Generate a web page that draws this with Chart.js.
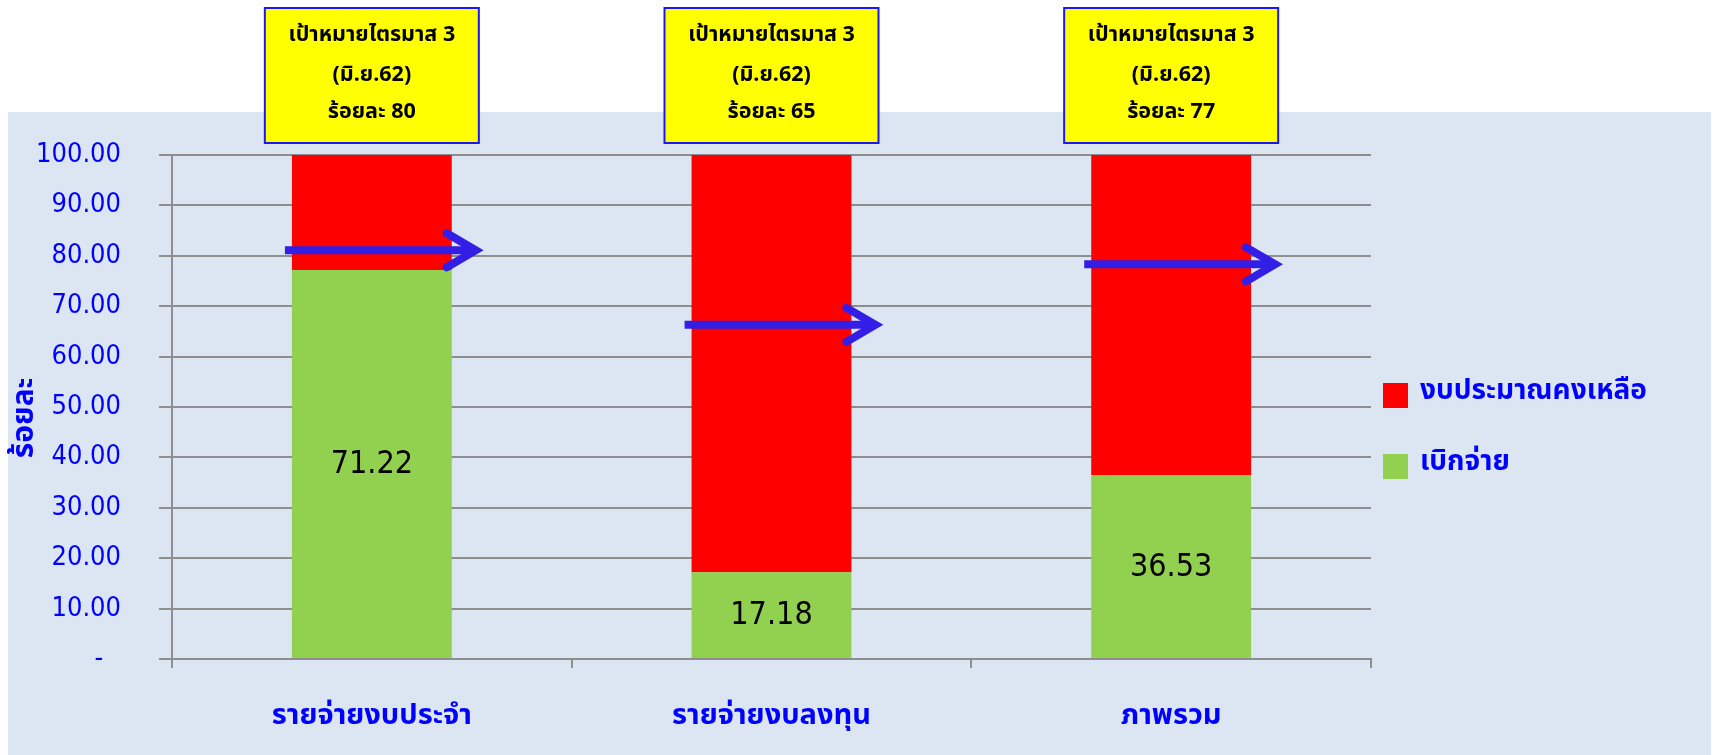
<!DOCTYPE html>
<html><head><meta charset="utf-8">
<script src="https://cdn.jsdelivr.net/npm/chart.js@4.4.0/dist/chart.umd.min.js"></script>
<style>html,body{margin:0;padding:0;background:#fff;}#wrap{width:1720px;height:755px;position:relative}</style>
</head><body><div id="wrap"><canvas id="c" width="1720" height="755"></canvas></div>
<script>
const categories = ['รายจ่ายงบประจำ', 'รายจ่ายงบลงทุน', 'ภาพรวม'];
const seriesNames = ['เบิกจ่าย', 'งบประมาณคงเหลือ'];
const spentValues = [77.2, 17.2, 36.5];
const remainingValues = [22.8, 82.8, 63.5];
const spentLabels = ['71.22', '17.18', '36.53'];
const targetValues = [80, 65, 77];
const arrowValues = [81.1, 66.3, 78.3];
const targetTitle = 'เป้าหมายไตรมาส 3';
const targetPeriod = '(มิ.ย.62)';
const yTitle = 'ร้อยละ';
const yTicks = [0, 10, 20, 30, 40, 50, 60, 70, 80, 90, 100];

const THAI = "'Noto Sans Thai','Noto Sans','DejaVu Sans',sans-serif";
const NUM = "'DejaVu Sans Condensed','DejaVu Sans',sans-serif";
const BLUE = '#0000FF';
const GRID = '#8E8E8E';

const decor = {
  id: 'decor',
  beforeDraw(chart) {
    const c = chart.ctx;
    c.save();
    c.fillStyle = '#ffffff';
    c.fillRect(0, 0, chart.width, chart.height);
    c.fillStyle = '#DCE6F2';
    c.fillRect(8, 112, 1703, 643);
    c.restore();
  },
  afterDatasetsDraw(chart) {
    const c = chart.ctx;
    const ys = chart.scales.y;
    const meta0 = chart.getDatasetMeta(0);
    c.save();
    c.fillStyle = '#000';
    c.font = "32px " + NUM;
    c.textAlign = 'center';
    c.textBaseline = 'middle';
    meta0.data.forEach((el, i) => {
      c.fillText(spentLabels[i], el.x, (el.y + el.base) / 2 + 1);
    });
    c.strokeStyle = '#331EE6';
    c.lineWidth = 8;
    meta0.data.forEach((el, i) => {
      const y = ys.getPixelForValue(arrowValues[i]);
      const x0 = el.x - el.width / 2 - 7;
      const tip = el.x + el.width / 2 + 27;
      c.lineCap = 'butt';
      c.beginPath(); c.moveTo(x0, y); c.lineTo(tip - 6, y); c.stroke();
      c.lineCap = 'round'; c.lineJoin = 'miter';
      c.beginPath(); c.moveTo(tip - 32, y - 17); c.lineTo(tip - 3, y); c.lineTo(tip - 32, y + 17); c.stroke();
    });
    c.restore();
  },
  afterDraw(chart) {
    const c = chart.ctx;
    const xs = chart.scales.x;
    c.save();
    categories.forEach((cat, i) => {
      const cx = xs.getPixelForValue(i);
      const w = 214, h = 135, top = 8;
      c.fillStyle = '#FFFF00';
      c.fillRect(cx - w / 2, top, w, h);
      c.strokeStyle = '#1A1AF0';
      c.lineWidth = 2;
      c.strokeRect(cx - w / 2, top, w, h);
      c.fillStyle = '#000';
      c.font = "bold 21.5px " + THAI;
      c.textAlign = 'center';
      c.textBaseline = 'middle';
      c.fillText(targetTitle, cx, 37);
      c.fillText(targetPeriod, cx, 77);
      c.fillText('ร้อยละ ' + targetValues[i], cx, 114);
    });
    const ds = chart.data.datasets;
    const order = [1, 0];
    const ly = [395, 466];
    order.forEach((d, k) => {
      c.fillStyle = ds[d].backgroundColor;
      c.fillRect(1383, ly[k] - 12, 25, 25);
      c.fillStyle = BLUE;
      c.font = "bold 28px " + THAI;
      c.textAlign = 'left';
      c.textBaseline = 'middle';
      c.fillText(ds[d].label, 1420, ly[k] - 2);
    });
    c.translate(27, 418);
    c.rotate(-Math.PI / 2);
    c.fillStyle = BLUE;
    c.font = "bold 30px " + THAI;
    c.textAlign = 'center';
    c.textBaseline = 'middle';
    c.fillText(yTitle, 0, 0);
    c.restore();
  }
};

new Chart(document.getElementById('c'), {
  type: 'bar',
  data: {
    labels: categories,
    datasets: [
      { label: seriesNames[0], data: spentValues, backgroundColor: '#92D050', barPercentage: 0.4, categoryPercentage: 1 },
      { label: seriesNames[1], data: remainingValues, backgroundColor: '#FF0000', barPercentage: 0.4, categoryPercentage: 1 }
    ]
  },
  options: {
    responsive: false,
    animation: false,
    events: [],
    layout: { padding: { left: 0, right: 349, top: 155, bottom: 0 } },
    plugins: { legend: { display: false }, tooltip: { enabled: false } },
    scales: {
      x: {
        stacked: true,
        grid: { offset: true, drawOnChartArea: false, drawTicks: true, tickLength: 9, color: GRID, lineWidth: 2 },
        border: { display: true, color: GRID, width: 2 },
        ticks: { color: BLUE, font: { family: THAI, size: 29, weight: 'bold' }, padding: 33 },
        afterFit(s) { s.height = 96; }
      },
      y: {
        stacked: true, min: 0, max: 100,
        afterBuildTicks(s) { s.ticks = yTicks.map(v => ({ value: v })); },
        grid: { color: GRID, lineWidth: 2, tickLength: 13 },
        border: { display: true, color: GRID, width: 2 },
        ticks: {
          color: BLUE, font: { family: NUM, size: 27 }, padding: 38,
          callback: v => v === 0 ? '-  \u200A' : Number(v).toFixed(2)
        },
        afterFit(s) { s.width = 172; }
      }
    }
  },
  plugins: [decor]
});
</script>
</body></html>
